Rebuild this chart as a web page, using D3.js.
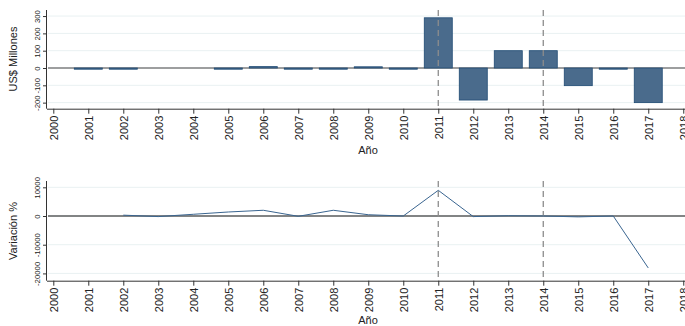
<!DOCTYPE html>
<html><head><meta charset="utf-8">
<script src="https://cdn.jsdelivr.net/npm/d3@7"></script>
<style>body{margin:0;background:#fff}svg{display:block;font-family:Arial,"Liberation Sans",sans-serif}</style>
</head><body>
<script>
const tickYears = [2000,2001,2002,2003,2004,2005,2006,2007,2008,2009,2010,2011,2012,2013,2014,2015,2016,2017,2018];
const barYears = [2001,2002,2005,2006,2007,2008,2009,2010,2011,2012,2013,2014,2015,2016,2017];
const barValues = [-3,-3,-2,8,-2,-3,7,-2,290,-185,100,100,-102,-4,-200];
const lineYears = [2002,2003,2004,2005,2006,2007,2008,2009,2010,2011,2012,2013,2014,2015,2016,2017];
const lineValues = [300,-200,600,1400,2000,-100,2000,450,0,8950,-200,100,0,-300,0,-18100];
const refYears = [2011,2014];
const topTicks = [-200,-100,0,100,200,300];
const botTicks = [-20000,-10000,0,10000];

const W=685,H=326;
const svg=d3.select("body").append("svg").attr("width",W).attr("height",H);
const x=d3.scaleLinear().domain([1999.82,2018.05]).range([47,685]);
const bw = (x(2001)-x(2000))*0.8;
const fmt = d => String(d);

function panel(top,bottom,domain,ticks,yTitle,yTitleY){
  const y=d3.scaleLinear().domain(domain).range([bottom,top]);
  const g=svg.append("g");
  g.selectAll(".grid").data(ticks).join("line")
    .attr("x1",48).attr("x2",685).attr("y1",d=>y(d)).attr("y2",d=>y(d))
    .attr("stroke","#e9f1f2").attr("stroke-width",1);
  const ya=g.append("g").attr("transform","translate(47,0)").call(d3.axisLeft(y).tickValues(ticks).tickSize(4).tickFormat(fmt));
  ya.select(".domain").attr("stroke","#333").attr("d",`M-0.5,${top}V${bottom}`);
  ya.selectAll(".tick line").attr("stroke","#333");
  ya.selectAll(".tick text").attr("transform","rotate(-90)").attr("x",0).attr("y",-7).attr("dy",0)
    .attr("text-anchor","middle").attr("font-size",7.8).attr("fill","#222");
  const xa=g.append("g").attr("transform",`translate(0,${bottom})`).call(d3.axisBottom(x).tickValues(tickYears).tickSize(5).tickFormat(fmt));
  xa.select(".domain").attr("stroke","#333").attr("d",`M47,0.5H685`);
  xa.selectAll(".tick line").attr("stroke","#333");
  xa.selectAll(".tick text").attr("transform","rotate(-90)").attr("x",-7).attr("y",0).attr("dy","0.35em")
    .attr("text-anchor","end").attr("font-size",11).attr("fill","#222");
  svg.append("text").attr("transform",`translate(17,${yTitleY}) rotate(-90)`).attr("text-anchor","middle")
    .attr("font-size",11).attr("fill","#222").text(yTitle);
  return {g,y};
}

// Top panel
const p1=panel(10,108.7,[-235,335],topTicks,"US$ Millones",59);
p1.g.append("line").attr("x1",48).attr("x2",685).attr("y1",p1.y(0)).attr("y2",p1.y(0)).attr("stroke","#808080").attr("stroke-width",1.4);
p1.g.selectAll(".bar").data(barYears).join("rect")
  .attr("x",d=>x(d)-bw/2).attr("width",bw)
  .attr("y",(d,i)=>p1.y(Math.max(0,barValues[i])))
  .attr("height",(d,i)=>Math.max(1.2,Math.abs(p1.y(barValues[i])-p1.y(0))))
  .attr("fill","#4a6b8c").attr("stroke","#1f4a73").attr("stroke-width",0.8);
p1.g.selectAll(".ref").data(refYears).join("line")
  .attr("x1",d=>x(d)).attr("x2",d=>x(d)).attr("y1",10).attr("y2",108.7)
  .attr("stroke","#8c8c8c").attr("stroke-width",1.3).attr("stroke-dasharray","6,4");
svg.append("text").attr("x",368).attr("y",154).attr("text-anchor","middle").attr("font-size",11).attr("fill","#222").text("Año");

// Bottom panel
const p2=panel(181,280.7,[-22540,12200],botTicks,"Variación %",231);
p2.g.append("line").attr("x1",48).attr("x2",685).attr("y1",p2.y(0)).attr("y2",p2.y(0)).attr("stroke","#111").attr("stroke-width",1);
p2.g.selectAll(".ref").data(refYears).join("line")
  .attr("x1",d=>x(d)).attr("x2",d=>x(d)).attr("y1",181).attr("y2",280.7)
  .attr("stroke","#8c8c8c").attr("stroke-width",1.3).attr("stroke-dasharray","6,4");
p2.g.append("path").datum(lineYears.map((d,i)=>[d,lineValues[i]]))
  .attr("d",d3.line().x(d=>x(d[0])).y(d=>p2.y(d[1])))
  .attr("fill","none").attr("stroke","#3a6590").attr("stroke-width",1);
svg.append("text").attr("x",368).attr("y",324).attr("text-anchor","middle").attr("font-size",11).attr("fill","#222").text("Año");
</script>
</body></html>
